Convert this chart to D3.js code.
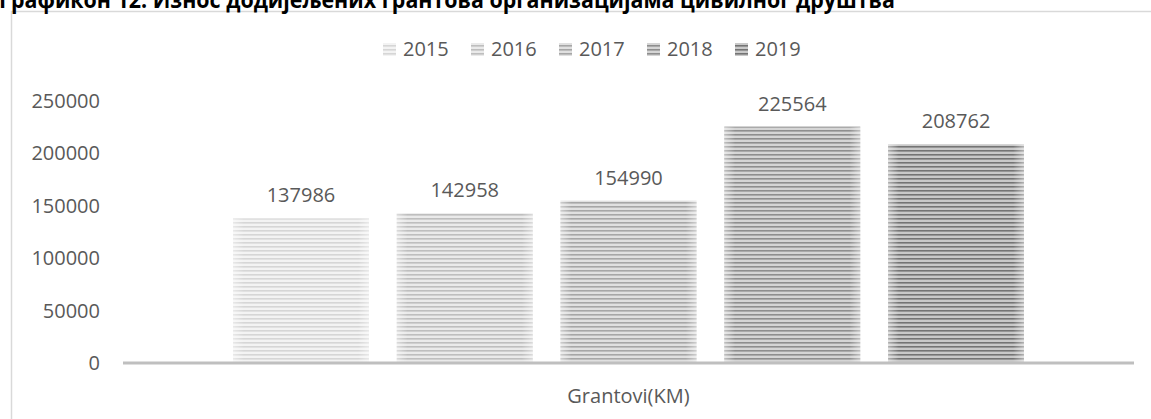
<!DOCTYPE html>
<html>
<head>
<meta charset="utf-8">
<script src="https://cdn.jsdelivr.net/npm/d3@7"></script>
<style>
  body { margin: 0; background: #fff; }
  svg { display: block; }
  text { font-family: "Open Sans", Carlito, Calibri, sans-serif; fill: #595959; }
</style>
</head>
<body>
<svg id="chart" width="1151" height="419"></svg>
<script>
const title = 'Графикон 12: Износ додијељених грантова организацијама цивилног друштва'
const category = 'Grantovi(KM)'
const years = ['2015', '2016', '2017', '2018', '2019']
const values = [137986, 142958, 154990, 225564, 208762]
const yTicks = [0, 50000, 100000, 150000, 200000, 250000]

// stripe colours per year, lighter -> darker
const stripeBg = ['#f3f3f3', '#eaeaea', '#e0e0e0', '#d5d5d5', '#c9c9c9']
const stripeFg = ['#d6d6d6', '#bebebe', '#a6a6a6', '#8e8e8e', '#747474']

const W = 1151, H = 419
const plot = { left: 123, right: 1134, top: 101, bottom: 363 }
const groupPad = 110

const svg = d3.select('#chart')
const defs = svg.append('defs')

years.forEach((y, i) => {
  const p = defs.append('pattern')
    .attr('id', 'pat' + y)
    .attr('patternUnits', 'userSpaceOnUse')
    .attr('width', 8).attr('height', 4)
  p.append('rect').attr('width', 8).attr('height', 4).style('fill', stripeBg[i])
  p.append('rect').attr('y', 2).attr('width', 8).attr('height', 1.6).style('fill', stripeFg[i])
})

const edge = defs.append('linearGradient').attr('id', 'edge')
  .attr('x1', 0).attr('x2', 1).attr('y1', 0).attr('y2', 0)
edge.append('stop').attr('offset', '0%').attr('stop-color', '#fff').attr('stop-opacity', 0.45)
edge.append('stop').attr('offset', '8%').attr('stop-color', '#fff').attr('stop-opacity', 0)
edge.append('stop').attr('offset', '92%').attr('stop-color', '#fff').attr('stop-opacity', 0)
edge.append('stop').attr('offset', '100%').attr('stop-color', '#fff').attr('stop-opacity', 0.45)

// frame
svg.append('rect')
  .attr('x', 11.5).attr('y', 11.5)
  .attr('width', W + 20).attr('height', H + 20)
  .style('fill', 'none').style('stroke', '#d9d9d9').style('stroke-width', 1.5)

// title (cut off at top like the source)
svg.append('text')
  .attr('x', -1).attr('y', 8)
  .attr('textLength', 896).attr('lengthAdjust', 'spacingAndGlyphs')
  .style('font-size', '23px').style('font-weight', 'bold').style('fill', '#000')
  .text(title)

const x0 = d3.scaleBand().domain([category]).range([plot.left, plot.right])
const x1 = d3.scaleBand().domain(years)
  .range([x0(category) + groupPad, x0(category) + x0.bandwidth() - groupPad])
  .paddingInner(0.17)
const y = d3.scaleLinear().domain([0, 250000]).range([plot.bottom, plot.top])

// y axis labels
const yAxis = svg.append('g')
  .attr('transform', 'translate(' + (plot.left - 23) + ',0)')
  .call(d3.axisLeft(y).tickValues(yTicks).tickSize(0).tickPadding(0).tickFormat(d3.format('d')))
yAxis.select('.domain').remove()
yAxis.selectAll('text').style('font-size', '20px').style('fill', '#595959').style('font-family', null)

// bars
const bars = svg.append('g').selectAll('g')
  .data(years)
  .enter().append('g')

bars.append('rect')
  .attr('x', d => x1(d))
  .attr('y', (d, i) => y(values[i]))
  .attr('width', x1.bandwidth())
  .attr('height', (d, i) => y(0) - y(values[i]))
  .style('fill', d => 'url(#pat' + d + ')')

bars.append('rect')
  .attr('x', d => x1(d))
  .attr('y', (d, i) => y(values[i]))
  .attr('width', x1.bandwidth())
  .attr('height', (d, i) => y(0) - y(values[i]))
  .style('fill', 'url(#edge)')

bars.append('text')
  .attr('x', d => x1(d) + x1.bandwidth() / 2)
  .attr('y', (d, i) => y(values[i]) - 16)
  .attr('text-anchor', 'middle')
  .style('font-size', '20px')
  .text((d, i) => values[i])

// x axis line
svg.append('line')
  .attr('x1', plot.left).attr('x2', plot.right)
  .attr('y1', y(0)).attr('y2', y(0))
  .style('stroke', '#bfbfbf').style('stroke-width', 3)

svg.append('text')
  .attr('x', x0(category) + x0.bandwidth() / 2)
  .attr('y', 403)
  .attr('text-anchor', 'middle')
  .style('font-size', '20px')
  .text(category)

// legend
const legend = svg.append('g').selectAll('g')
  .data(years)
  .enter().append('g')
  .attr('transform', (d, i) => 'translate(' + (383 + i * 88) + ',43)')
legend.append('rect')
  .attr('width', 13).attr('height', 13)
  .style('fill', d => 'url(#pat' + d + ')')
legend.append('text')
  .attr('x', 20).attr('y', 13)
  .style('font-size', '20px')
  .text(d => d)
</script>
</body>
</html>
